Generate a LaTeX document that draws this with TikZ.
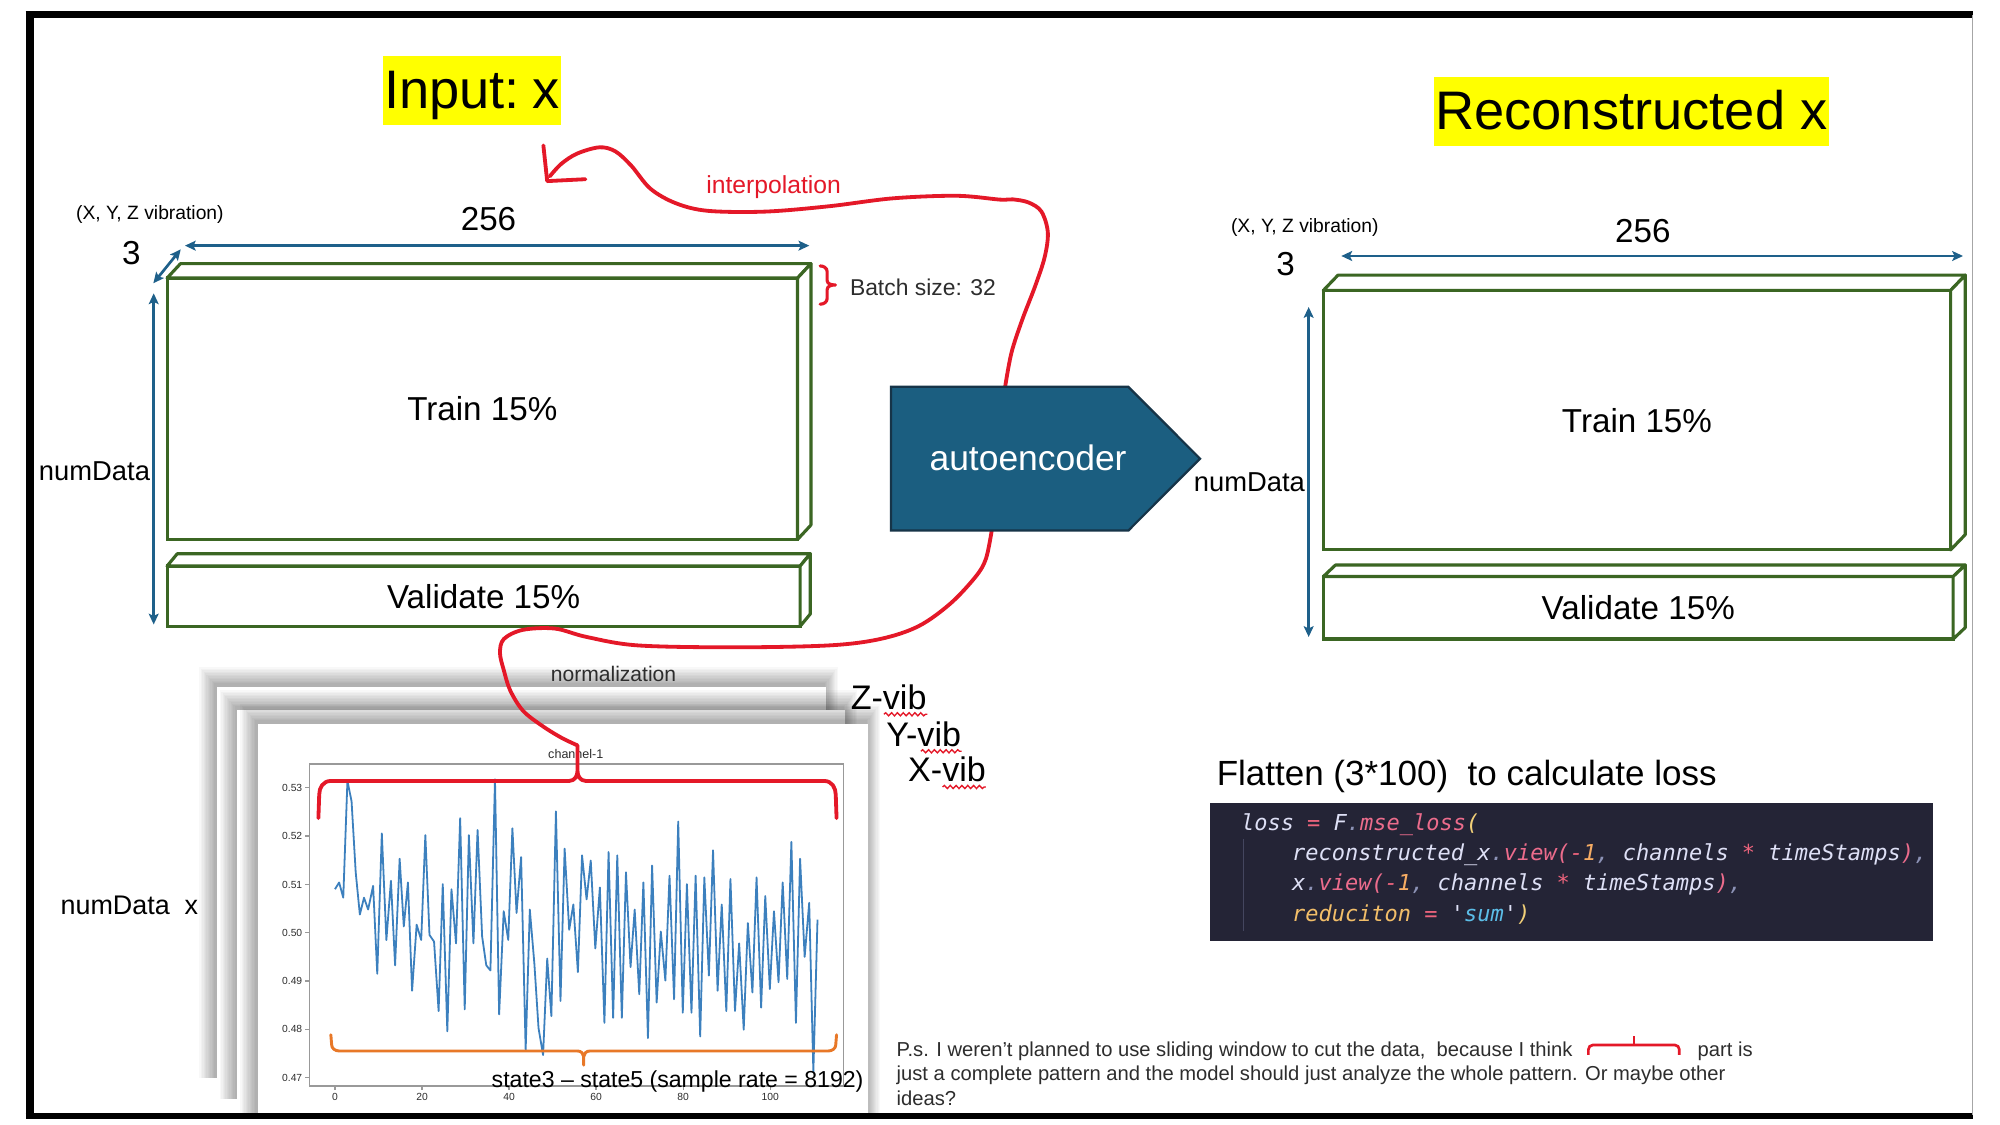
\documentclass[tikz,border=0pt]{standalone}
\usepackage{fontspec}
\setmainfont{Liberation Sans}
\setmonofont{DejaVu Sans Mono}
\usetikzlibrary{arrows.meta,calc,decorations.pathmorphing}
\definecolor{boxgreen}{RGB}{59,102,35}
\definecolor{dimblue}{RGB}{30,96,138}
\definecolor{aeblue}{RGB}{27,94,128}
\definecolor{aeedge}{RGB}{22,52,72}
\definecolor{pen}{RGB}{228,24,40}
\definecolor{penorange}{RGB}{232,120,40}
\definecolor{hl}{RGB}{255,255,0}
\definecolor{codebg}{RGB}{36,36,54}
\definecolor{ctext}{RGB}{222,224,246}
\definecolor{cpink}{RGB}{236,108,140}
\definecolor{cop}{RGB}{238,100,125}
\definecolor{cyel}{RGB}{242,208,120}
\definecolor{corange}{RGB}{246,172,100}
\definecolor{cpeach}{RGB}{242,190,105}
\definecolor{csky}{RGB}{92,190,232}
\definecolor{cgray}{RGB}{140,146,182}
\definecolor{guide}{RGB}{68,70,95}
\definecolor{dataline}{RGB}{60,128,190}
\definecolor{txtgray}{RGB}{45,45,45}
\newcommand\fsz[1]{\fontsize{#1}{#1}\selectfont}
\newcommand\pgshadow[4]{%
  \foreach \k in {1,...,12}{\fill[black,fill opacity=0.026] (#1-\k*1.05-1,#2-\k*1.15-2) rectangle (#3+\k*0.9-1,#4);}}
\tikzset{
  boxface/.style={draw=boxgreen, line width=0.7pt, fill=white, anchor=north west},
  boxedge/.style={draw=boxgreen, line width=0.7pt, line join=round, fill=white},
  dimarr/.style={dimblue, line width=0.6pt, {Stealth[length=2.4pt,width=2.2pt,inset=0.5pt]}-{Stealth[length=2.4pt,width=2.2pt,inset=0.5pt]}},
  penline/.style={pen, line width=0.85pt, line cap=round, line join=round},
  pagebox/.style={fill=white, anchor=north west},
  axisline/.style={draw=gray!80, line width=0.3pt},
  ticklbl/.style={font={\fsz{2.3}}, text=txtgray},
  wavy/.style={pen, line width=0.3pt, decorate, decoration={snake, amplitude=0.35pt, segment length=1.3pt}},
  codeln/.style={anchor=base west, font={\ttfamily\itshape\fsz{4.9}}, text=ctext}
}
\begin{document}
\begin{tikzpicture}[x=0.01cm, y=-0.01cm, every node/.style={inner sep=0pt, outer sep=0pt}]
\useasboundingbox (0,0) rectangle (1568,882);
\fill[white] (0,0) rectangle (1568,882);

% titles
\node[fill=hl, minimum width=1.40cm, minimum height=0.537cm, anchor=north west] (inputbg) at (300,44) {};
\node[font={\fsz{12.1}}, anchor=base] (inputlbl) at (370,85) {Input:\kern-0.05em\ x};
\node[fill=hl, minimum width=3.10cm, minimum height=0.543cm, anchor=north west] (reconbg) at (1124,60.2) {};
\node[font={\fsz{12.1}}, anchor=base] (reconlbl) at (1279,101.5) {Reconstructed x};

% ---------- left block ----------
\node[boxface, minimum width=4.94cm, minimum height=2.048cm, font={\fsz{7.4}}] (trainL) at (131,218) {Train 15\%};
\draw[boxedge] (trainL.north west) -- ++(10.5,-11.3) -- ($(trainL.north east)+(10.5,-11.3)$) -- (trainL.north east) -- cycle;
\draw[boxedge] (trainL.north east) -- ($(trainL.north east)+(10.5,-11.3)$) -- ($(trainL.south east)+(10.5,-11.3)$) -- (trainL.south east) -- cycle;
\node[boxface, minimum width=4.96cm, minimum height=0.472cm, font={\fsz{7.4}}] (valL) at (131,443.8) {Validate 15\%};
\draw[boxedge] (valL.north west) -- ++(8,-9.7) -- ($(valL.north east)+(8,-9.7)$) -- (valL.north east) -- cycle;
\draw[boxedge] (valL.north east) -- ($(valL.north east)+(8,-9.7)$) -- ($(valL.south east)+(8,-9.7)$) -- (valL.south east) -- cycle;

\coordinate (wL1) at (145,192.6); \coordinate (wL2) at (634.5,192.6);
\coordinate (dL1) at (120.2,222.1); \coordinate (dL2) at (141.7,195.5);
\coordinate (hL1) at (120.5,230); \coordinate (hL2) at (120.5,489.6);
\draw[dimarr] (wL1) -- (wL2);
\draw[dimarr] (dL1) -- (dL2);
\draw[dimarr] (hL1) -- (hL2);
\node[font={\fsz{4.3}}, anchor=base] (vibL) at (117.5,172) {(X, Y, Z vibration)};
\node[font={\fsz{7.4}}, anchor=base] (threeL) at (103,207) {3};
\node[font={\fsz{7.4}}, anchor=base] (wlabL) at (383,180.5) {256};
\node[font={\fsz{6.1}}, anchor=base east] (ndL) at (117.6,377) {numData};

% batch brace
\coordinate (bb1) at (643,208.5); \coordinate (bb2) at (643,238.5);
\draw[penline, line width=0.7pt] (bb1) to[out=0,in=90] (648.5,213) -- (648.5,220) to[out=-90,in=180] (655,223.4) to[out=180,in=90] (648.5,227) -- (648.5,234) to[out=-90,in=0] (bb2);
\node[font={\fsz{5.1}}, anchor=base west, text=txtgray] (batch) at (666.4,231.3) {Batch size: 32};

% ---------- right block ----------
\node[boxface, minimum width=4.915cm, minimum height=2.033cm, font={\fsz{7.4}}] (trainR) at (1037.5,227.7) {Train 15\%};
\draw[boxedge] (trainR.north west) -- ++(11.5,-12) -- ($(trainR.north east)+(11.5,-12)$) -- (trainR.north east) -- cycle;
\draw[boxedge] (trainR.north east) -- ($(trainR.north east)+(11.5,-12)$) -- ($(trainR.south east)+(11.5,-12)$) -- (trainR.south east) -- cycle;
\node[boxface, minimum width=4.935cm, minimum height=0.49cm, font={\fsz{7.4}}] (valR) at (1037.5,452) {Validate 15\%};
\draw[boxedge] (valR.north west) -- ++(9.5,-9) -- ($(valR.north east)+(9.5,-9)$) -- (valR.north east) -- cycle;
\draw[boxedge] (valR.north east) -- ($(valR.north east)+(9.5,-9)$) -- ($(valR.south east)+(9.5,-9)$) -- (valR.south east) -- cycle;

\coordinate (wR1) at (1051.6,200.7); \coordinate (wR2) at (1539,200.7);
\coordinate (hR1) at (1026,240.7); \coordinate (hR2) at (1026,499.4);
\draw[dimarr] (wR1) -- (wR2);
\draw[dimarr] (hR1) -- (hR2);
\node[font={\fsz{4.3}}, anchor=base] (vibR) at (1023,182) {(X, Y, Z vibration)};
\node[font={\fsz{7.4}}, anchor=base] (threeR) at (1008,216) {3};
\node[font={\fsz{7.4}}, anchor=base] (wlabR) at (1288,190) {256};
\node[font={\fsz{6.1}}, anchor=base east] (ndR) at (1023,385) {numData};

% ---------- stacked chart pages ----------
\pgshadow{170}{539}{647}{845}
\node[pagebox, minimum width=4.77cm, minimum height=3.06cm] (pageZ) at (170,539) {};
\pgshadow{186}{557}{662}{862}
\node[pagebox, minimum width=4.76cm, minimum height=3.05cm] (pageY) at (186,557) {};
\pgshadow{202}{568}{680}{874}
\node[pagebox, minimum width=4.78cm, minimum height=3.06cm] (pageX) at (202,568) {};

\node[font={\fsz{4.7}}, anchor=base, text=txtgray] (norm) at (481,534.5) {normalization};
\node[font={\fsz{6.0}}, anchor=base west] (ndx) at (47.5,717) {numData~~x};

\begin{scope}[shift={(196,564.5)}, xscale=0.325, yscale=0.2653]
  \draw[axisline] (143,130) rectangle (1432,1082);
  \foreach \v/\yy in {0.53/200, 0.52/343, 0.51/486, 0.50/628, 0.49/771, 0.48/914, 0.47/1057}{
    \draw[axisline] (133,\yy) -- (143,\yy);
    \node[ticklbl, anchor=east] (yt\yy) at (126,\yy) {\v};}
  \foreach \v/\xx in {0/205, 20/415, 40/625, 60/835, 80/1045, 100/1255}{
    \draw[axisline] (\xx,1082) -- (\xx,1092);
    \node[ticklbl] (xt\v) at (\xx,1113) {\v};}
  \node[font={\fsz{2.8}}, text=txtgray] (chtitle) at (786,100) {channel-1};
  \draw[dataline, line width=0.4pt, line join=round] plot coordinates {
  (205,500) (215,480) (225,525) (235,180) (245,240) (255,450) (265,575) (275,525) (285,560) (297,490)
  (307,750) (318,335) (329,650) (340,475) (350,725) (361,410) (371,610) (381,480) (391,800) (402,605)
  (413,650) (423,340) (433,635) (444,655) (455,860) (465,485) (476,920) (486,500) (497,660) (507,290)
  (518,855) (528,340) (539,660) (549,325) (560,640) (570,725) (580,740) (591,175) (601,870) (612,565)
  (623,650) (633,320) (643,570) (654,405) (665,975) (675,560) (686,720) (696,910) (707,990) (717,705)
  (727,875) (738,270) (749,830) (759,380) (770,620) (780,545) (791,745) (801,400) (812,530) (822,415)
  (833,675) (844,495) (855,895) (865,390) (876,880) (886,400) (897,880) (907,450) (918,730) (928,560)
  (939,810) (949,480) (960,940) (970,430) (981,835) (991,625) (1002,770) (1012,460) (1023,825) (1033,300)
  (1044,865) (1054,485) (1065,865) (1075,460) (1086,935) (1096,465) (1107,755) (1117,385) (1128,800) (1138,545)
  (1149,860) (1159,470) (1170,860) (1180,660) (1191,915) (1201,600) (1212,805) (1222,465) (1233,850) (1243,520)
  (1254,795) (1264,565) (1275,775) (1285,480) (1296,765) (1306,360) (1317,895) (1327,410) (1338,700) (1349,540)
  (1359,1040) (1369,590)};
  % orange brace
  \coordinate (ob1) at (195,930); \coordinate (ob2) at (1415,930); \coordinate (obtip) at (805,1020);
  \draw[penorange, line width=0.65pt, line cap=round, line join=round]
    (ob1) -- (197,960) to[out=-90,in=180] (215,978) -- (790,978) to[out=0,in=90] (805,995) -- (obtip)
    (805,995) to[out=90,in=180] (820,978) -- (1395,978) to[out=0,in=-90] (1413,960) -- (ob2);
  % red brace
  \coordinate (rb1) at (165,290); \coordinate (rb2) at (1415,290); \coordinate (rbtip) at (790,75);
  \draw[penline]
    (rb1) -- (167,220) to[out=90,in=180] (195,180) -- (770,180) to[out=0,in=-90] (790,150) -- (rbtip)
    (790,150) to[out=-90,in=180] (810,180) -- (1385,180) to[out=0,in=90] (1413,220) -- (rb2);
\end{scope}
\node[font={\fsz{5.15}}, anchor=base west] (state) at (385.5,852.3) {state3 – state5 (sample rate = 8192)};

% vib labels
\node[font={\fsz{7.6}}, anchor=base west] (zvib) at (667,556) {Z-vib};
\node[font={\fsz{7.6}}, anchor=base west] (yvib) at (695,585) {Y-vib};
\node[font={\fsz{7.6}}, anchor=base west] (xvib) at (712,613) {X-vib};
\coordinate (zu1) at (693,560); \coordinate (zu2) at (727,560);
\coordinate (yu1) at (722,589); \coordinate (yu2) at (754,589);
\coordinate (xu1) at (739,617); \coordinate (xu2) at (773,617);
\draw[wavy] (zu1) -- (zu2);
\draw[wavy] (yu1) -- (yu2);
\draw[wavy] (xu1) -- (xu2);

% ---------- loss / code ----------
\node[font={\fsz{7.8}}, anchor=base west] (flat) at (954,616) {Flatten (3*100)~ to calculate loss};
\node[fill=codebg, minimum width=5.665cm, minimum height=1.075cm, anchor=north west] (codebox) at (949,629.8) {};
\coordinate (g1) at (975,658); \coordinate (g2) at (975,730);
\draw[guide, line width=0.35pt] (g1) -- (g2);
\node[codeln] (cl1) at (973,651) {loss \textcolor{cop}{=} F\textcolor{cgray}{.}\textcolor{cpink}{mse\_loss}\textcolor{cyel}{(}};
\node[codeln] (cl2) at (1013,674.7) {reconstructed\_x\textcolor{cgray}{.}\textcolor{cpink}{view(}\textcolor{cop}{-}\textcolor{corange}{1}\textcolor{cgray}{,} channels \textcolor{cop}{*} timeStamps\textcolor{cpink}{)}\textcolor{cgray}{,}};
\node[codeln] (cl3) at (1013,698.5) {x\textcolor{cgray}{.}\textcolor{cpink}{view(}\textcolor{cop}{-}\textcolor{corange}{1}\textcolor{cgray}{,} channels \textcolor{cop}{*} timeStamps\textcolor{cpink}{)}\textcolor{cgray}{,}};
\node[codeln] (cl4) at (1013,722.2) {\textcolor{cpeach}{reduciton} \textcolor{cop}{=} '\textcolor{csky}{sum}'\textcolor{cyel}{)}};

% ---------- P.S. text ----------
\node[font={\fsz{4.5}}, anchor=base west, text=txtgray] (ps1) at (703,828) {P.s. I weren't planned to use sliding window to cut the data, \ because I think};
\node[font={\fsz{4.5}}, anchor=base west, text=txtgray] (ps1b) at (1331,828) {part is};
\node[font={\fsz{4.5}}, anchor=base west, text=txtgray] (ps2) at (703,847.5) {just a complete pattern and the model should just analyze the whole pattern. Or maybe other};
\node[font={\fsz{4.5}}, anchor=base west, text=txtgray] (ps3) at (703,867) {ideas?};
\coordinate (psb1) at (1245.3,827); \coordinate (psb2) at (1316.6,827); \coordinate (psbt) at (1281,812.2);
\draw[pen, line width=0.6pt, rounded corners=1pt] (psb1) -- (1245.3,819.3) -- (1316.6,819.3) -- (psb2);
\draw[pen, line width=0.6pt] (1281,819.3) -- (psbt);

% ---------- red hand-drawn curves ----------
\coordinate (aeTop) at (788,303.5);
\coordinate (aeBot) at (777.5,416);
\coordinate (hookEnd) at (431,138.3);
\draw[penline] plot[smooth, tension=0.55] coordinates {(aeTop) (793,276.5) (801.5,250.5) (811.5,224.5) (819,201.7) (821.5,182.2) (816.5,165.9) (806.5,158.8) (794,156.3) (784,156.5) (750,153.5) (700,155.5) (650,161.7) (600,165.9) (555,165.3) (530,159.4) (510,148) (495,130) (482.5,118.7) (470,115.5) (452.5,120.4) (440,128.5) (hookEnd)};
\coordinate (hk1) at (426,114); \coordinate (hk2) at (459,140.5);
\draw[penline] (hk1) -- (429,142) -- (hk2);
\node[font={\fsz{5.5}}, anchor=base, text=pen] (interp) at (606.5,152) {interpolation};
\draw[penline] plot[smooth, tension=0.55] coordinates {(aeBot) (773,438) (765,452) (745,473.3) (720,491) (690,501) (650,506) (575,507.5) (500,506) (460,499.4) (435,492.8) (410,493.8) (395,501) (392,512) (395,525.5) (400,541.3) (410,557.2) (425,569) (440,578.3) (rbtip)};

% ---------- autoencoder ----------
\fill[aeblue, draw=aeedge, line width=0.5pt] (698.5,303.2) -- (884.6,303.2) -- (940.8,359.6) -- (884.6,416) -- (698.5,416) -- cycle;
\node[font={\fsz{7.9}}, anchor=base, text=white] (ae) at (806,368.5) {autoencoder};

% ---------- frame ----------
\draw[black, line width=1.45pt] (20,11.5) -- (1547,11.5);
\draw[black, line width=1.7pt] (23.5,9) -- (23.5,877);
\draw[black, line width=1.3pt] (20,875) -- (1547,875);
\draw[gray!70, line width=0.4pt] (1546.5,12) -- (1546.5,874);
\end{tikzpicture}
\end{document}
